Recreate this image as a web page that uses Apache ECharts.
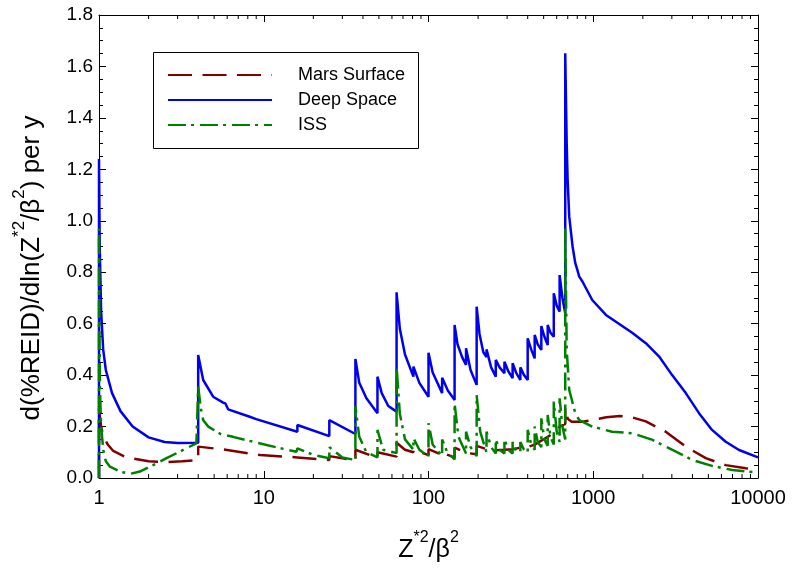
<!DOCTYPE html>
<html>
<head>
<meta charset="utf-8">
<script src="https://cdn.jsdelivr.net/npm/echarts@6/dist/echarts.min.js"></script>
<style>
html,body{margin:0;padding:0;background:#fff;}
#c{width:797px;height:575px;}
</style>
</head>
<body>
<div id="c"></div>
<script>
// ---- data (x = Z*^2/beta^2, y = d(%REID)/dln(Z*^2/beta^2) per y) ----
const seriesNames = ['Mars Surface', 'Deep Space', 'ISS'];
const xTickLabels = ['1', '10', '100', '1000', '10000'];
const yTickLabels = ['0.0','0.2','0.4','0.6','0.8','1.0','1.2','1.4','1.6','1.8'];
const minorTickValues = [2,3,4,5,6,7,8,9,20,30,40,50,60,70,80,90,200,300,400,500,600,700,800,900,2000,3000,4000,5000,6000,7000,8000,9000];

const marsSurface = [
  [1,0],[1,0.27],[1.03,0.2],[1.06,0.165],[1.13,0.13],[1.22,0.105],[1.47,0.08],[2.0,0.065],[2.5,0.062],[3.2,0.065],[4,0.07],
  [4,0.122],[6,0.109],[9.5,0.089],[16,0.08],[25,0.07],[25,0.085],[36,0.068],[36,0.11],[49,0.078],[49,0.1],[64,0.083],
  [64,0.137],[72,0.11],[81,0.1],[81,0.11],[100,0.089],[100,0.112],[121,0.09],[121,0.098],[144,0.08],[144,0.118],
  [169,0.098],[169,0.105],[196,0.092],[196,0.125],[225,0.112],[256,0.108],[289,0.11],[324,0.112],[361,0.118],[400,0.12],
  [441,0.13],[484,0.145],[529,0.16],[576,0.175],[625,0.2],[676,0.21],[676,0.275],[700,0.23],[740,0.219],[860,0.219],
  [1000,0.226],[1200,0.236],[1450,0.241],[1720,0.236],[2085,0.22],[2754,0.18],[3645,0.122],[4819,0.077],[6370,0.05],
  [8420,0.038],[10000,0.031]
];

const deepSpace = [
  [1,0],[1,1.24],[1.01,0.9],[1.03,0.65],[1.06,0.5],[1.1,0.42],[1.2,0.33],[1.35,0.26],[1.6,0.2],[2.0,0.158],[2.5,0.14],[3.0,0.136],[4,0.137],
  [4,0.478],[4.29,0.381],[4.93,0.316],[5.67,0.293],[5.85,0.29],[6.08,0.267],[8.22,0.238],[9,0.229],[9.1,0.234],[16,0.18],
  [16,0.206],[25,0.163],[25,0.225],[36,0.171],[36,0.463],[38,0.37],[42,0.31],[49,0.252],[49,0.394],[52,0.33],[57,0.28],
  [64,0.258],[64,0.722],[67,0.58],[72,0.48],[81,0.394],[81,0.433],[88,0.37],[100,0.316],[100,0.487],[106,0.41],[121,0.33],
  [121,0.39],[131,0.34],[144,0.303],[144,0.595],[150,0.52],[160,0.47],[169,0.44],[169,0.504],[180,0.42],[196,0.362],
  [196,0.666],[204,0.56],[215,0.49],[225,0.47],[225,0.5],[240,0.43],[256,0.394],[256,0.459],[270,0.43],[289,0.407],
  [289,0.452],[305,0.415],[324,0.388],[324,0.446],[340,0.41],[361,0.381],[361,0.43],[380,0.4],[400,0.381],[400,0.543],
  [420,0.5],[441,0.465],[441,0.556],[460,0.52],[484,0.498],[484,0.591],[505,0.55],[529,0.517],[529,0.595],[550,0.565],
  [576,0.549],[576,0.718],[600,0.67],[625,0.647],[625,0.789],[650,0.7],[676,0.64],[676,1.651],[690,1.3],[699,1.159],
  [715,1.016],[749,0.9],[778,0.835],[790,0.83],[800,0.81],[822,0.783],[858,0.765],[986,0.692],[1194,0.634],[1438,0.599],
  [1723,0.565],[2085,0.524],[2512,0.472],[3011,0.40],[3645,0.33],[4385,0.252],[5260,0.187],[6370,0.141],[7674,0.109],
  [10000,0.08]
];

const iss = [
  [1,0],[1,0.97],[1.005,0.6],[1.014,0.342],[1.03,0.2],[1.062,0.109],[1.1,0.065],[1.166,0.044],[1.34,0.025],[1.54,0.016],
  [1.77,0.025],[2.13,0.05],[2.57,0.077],[3.24,0.109],[3.9,0.135],[4,0.135],[4,0.355],[4.15,0.27],[4.29,0.225],[4.6,0.2],
  [5.5,0.17],[6.51,0.16],[10.4,0.128],[15.8,0.102],[16,0.115],[20,0.09],[25,0.077],[25,0.12],[30,0.08],[36,0.07],
  [36,0.28],[38,0.16],[42,0.1],[49,0.08],[49,0.187],[53,0.11],[64,0.097],[64,0.433],[67,0.25],[72,0.15],[81,0.11],
  [81,0.155],[88,0.11],[100,0.083],[100,0.213],[106,0.13],[121,0.085],[121,0.15],[130,0.1],[144,0.072],[144,0.29],
  [152,0.16],[169,0.095],[169,0.18],[180,0.12],[196,0.085],[196,0.323],[206,0.18],[225,0.1],[225,0.18],[240,0.12],
  [256,0.095],[256,0.15],[270,0.11],[289,0.095],[289,0.15],[305,0.11],[324,0.095],[324,0.14],[340,0.105],[361,0.1],
  [361,0.14],[380,0.11],[400,0.1],[400,0.187],[420,0.13],[441,0.11],[441,0.2],[460,0.14],[484,0.12],[484,0.232],
  [505,0.15],[529,0.125],[529,0.245],[550,0.16],[576,0.13],[576,0.297],[600,0.18],[625,0.14],[625,0.31],[650,0.2],
  [676,0.15],[676,0.97],[690,0.5],[715,0.342],[778,0.252],[822,0.225],[986,0.2],[1300,0.18],[1723,0.174],[2290,0.148],
  [3024,0.109],[3999,0.07],[5260,0.047],[6980,0.031],[10000,0.021]
];

// ---- chart ----
const FONT = '"Liberation Sans", Arial, sans-serif';
const chart = echarts.init(document.getElementById('c'), null, {renderer: 'canvas'});

const RED = '#800000', BLUE = '#0000f0', GREEN = '#008000';

const xNameRich = {
  m: {fontFamily: FONT, fontSize: 25, color: '#000', verticalAlign: 'bottom', padding: [8, 0, 0, 0]},
  s: {fontFamily: FONT, fontSize: 16, color: '#000', verticalAlign: 'top'}
};
const yNameRich = {
  m: {fontFamily: FONT, fontSize: 26, color: '#000', verticalAlign: 'bottom', padding: [8, 0, 0, 0]},
  s: {fontFamily: FONT, fontSize: 17, color: '#000', verticalAlign: 'top'}
};

const axisCommon = {
  axisLine: {show: true, onZero: false, lineStyle: {color: '#000', width: 1}},
  splitLine: {show: false}
};

const option = {
  animation: false,
  backgroundColor: '#fff',
  grid: {left: 99, right: 39, top: 15, bottom: 97, containLabel: false},
  graphic: [
    {
      type: 'rect', left: 153, top: 52, z: 10,
      shape: {width: 265, height: 96},
      style: {fill: 'rgba(0,0,0,0)', stroke: '#000', lineWidth: 1}
    },
    {
      type: 'text', x: 28, y: 268, rotation: Math.PI / 2, z: 10,
      style: {
        text: '{m|d(%REID)/dln(Z}{s|*2}{m|/β}{s|2}{m|) per y}',
        rich: yNameRich, align: 'center', verticalAlign: 'middle'
      }
    }
  ],
  legend: {
    orient: 'vertical', left: 167, top: 66,
    data: seriesNames,
    itemWidth: 104, itemHeight: 14, itemGap: 7,
    padding: 0,
    itemStyle: {opacity: 0, borderWidth: 0},
    textStyle: {fontFamily: FONT, fontSize: 18, color: '#000', padding: [0, 0, 0, 21]},
    selectedMode: false
  },
  xAxis: [
    Object.assign({}, axisCommon, {
      type: 'log', logBase: 10, min: 1, max: 10000, position: 'bottom',
      axisTick: {show: true, inside: true, length: 7, lineStyle: {color: '#000'}},
      axisLabel: {show: true, fontFamily: FONT, fontSize: 20, color: '#000', margin: 10,
        formatter: function (v) { const i = Math.round(Math.log10(v)); return xTickLabels[i] || ''; }},
      name: '{m|Z}{s|*2}{m|/β}{s|2}',
      nameLocation: 'middle', nameGap: 52,
      nameTextStyle: {rich: xNameRich}
    }),
    Object.assign({}, axisCommon, {
      type: 'log', logBase: 10, min: 1, max: 10000, position: 'top',
      axisTick: {show: true, inside: true, length: 7, lineStyle: {color: '#000'}},
      axisLabel: {show: false}
    })
  ],
  yAxis: [
    Object.assign({}, axisCommon, {
      type: 'value', min: 0, max: 1.8, interval: 0.2, position: 'left',
      axisTick: {show: true, inside: true, length: 7, lineStyle: {color: '#000'}},
      minorTick: {show: true, splitNumber: 4, length: 4, lineStyle: {color: '#000'}},
      axisLabel: {show: true, fontFamily: FONT, fontSize: 19, color: '#000', margin: 6,
        formatter: function (v) { return yTickLabels[Math.round(v / 0.2)] || ''; }}
    }),
    Object.assign({}, axisCommon, {
      type: 'value', min: 0, max: 1.8, interval: 0.2, position: 'right',
      axisTick: {show: true, inside: true, length: 7, lineStyle: {color: '#000'}},
      minorTick: {show: true, splitNumber: 4, length: 4, lineStyle: {color: '#000'}},
      axisLabel: {show: false}
    })
  ],
  series: [
    {
      name: 'Mars Surface', type: 'line', data: marsSurface, showSymbol: false, symbol: 'none',
      xAxisIndex: 0, yAxisIndex: 0, z: 3,
      lineStyle: {color: RED, width: 2.5, type: [24, 10.5]},
      itemStyle: {color: RED}
    },
    {
      name: 'Deep Space', type: 'line', data: deepSpace, showSymbol: false, symbol: 'none',
      xAxisIndex: 0, yAxisIndex: 0, z: 4,
      lineStyle: {color: BLUE, width: 2.5, type: 'solid'},
      itemStyle: {color: BLUE}
    },
    {
      name: 'ISS', type: 'line', data: iss, showSymbol: false, symbol: 'none',
      xAxisIndex: 0, yAxisIndex: 0, z: 5,
      lineStyle: {color: GREEN, width: 2.5, type: [18, 5, 3, 6]},
      itemStyle: {color: GREEN}
    },
    {
      name: 'minorTicks', type: 'custom', xAxisIndex: 0, yAxisIndex: 0, silent: true, clip: false, z: 6,
      data: minorTickValues.map(function (v) { return [v, 0]; }),
      renderItem: function (params, api) {
        const cs = params.coordSys;
        const x = api.coord([api.value(0), 0])[0];
        const yb = cs.y + cs.height, yt = cs.y;
        return {
          type: 'group',
          children: [
            {type: 'line', shape: {x1: x, y1: yb, x2: x, y2: yb - 4}, style: {stroke: '#000', lineWidth: 1}},
            {type: 'line', shape: {x1: x, y1: yt, x2: x, y2: yt + 4}, style: {stroke: '#000', lineWidth: 1}}
          ]
        };
      }
    }
  ]
};
chart.setOption(option);
</script>
</body>
</html>
